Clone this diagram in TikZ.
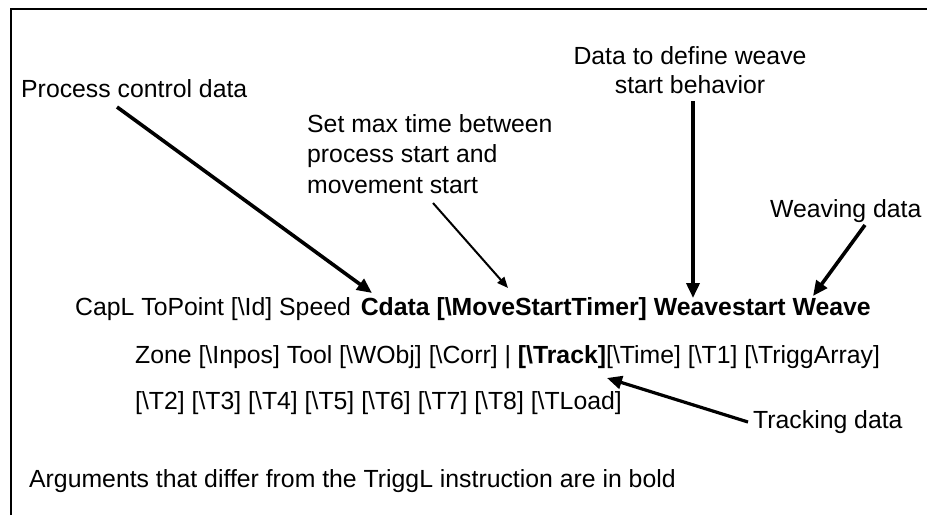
\documentclass[tikz,border=0pt]{standalone}
\usepackage{fontspec}
\setmainfont{Liberation Sans}
\usetikzlibrary{arrows.meta}
\tikzset{
  txt/.style={inner sep=0pt, anchor=base west, font=\fontsize{24.8}{31}\selectfont},
  thickarrow/.style={line width=3.6pt, -{Triangle[length=15pt,width=13pt]}},
  thinarrow/.style={line width=2pt, -{Triangle[length=11pt,width=9pt]}},
  frameline/.style={line width=2.6pt}
}
\newcommand{\bs}{\textbackslash}
\begin{document}
\begin{tikzpicture}[x=1pt,y=-1pt]
\useasboundingbox (0,0) rectangle (927,515);
% frame (cut off at right and bottom)
\draw[frameline] (11,515) -- (11,9) -- (927,9);

% annotation labels
\node[txt] (pcd) at (21,97) {Process control data};
\node[txt] (smt1) at (307,132) {Set max time between};
\node[txt] (smt2) at (307,162) {process start and};
\node[txt] (smt3) at (307,193) {movement start};
\node[txt, anchor=base] (dtd1) at (690,64) {Data to define weave};
\node[txt, anchor=base] (dtd2) at (690,93) {start behavior};
\node[txt] (wvd) at (770,217) {Weaving data};
\node[txt] (trk) at (753,428) {Tracking data};

% instruction
\node[txt] (l1) at (75,315) {CapL ToPoint [\bs Id] Speed\hspace{3pt} \textbf{Cdata [\bs MoveStartTimer] Weavestart Weave}};
\node[txt] (l2) at (135,363) {Zone [\bs Inpos] Tool [\bs WObj] [\bs Corr] | \textbf{[\bs Track]}[\bs Time] [\bs T1] [\bs TriggArray]};
\node[txt] (l3) at (135,409) {[\bs T2] [\bs T3] [\bs T4] [\bs T5] [\bs T6] [\bs T7] [\bs T8] [\bs TLoad]};

\node[txt] (note) at (29,487) {Arguments that differ from the TriggL instruction are in bold};

% arrow end points
\coordinate (pcdS) at (117,107);
\coordinate (pcdT) at (372,293);
\coordinate (smtS) at (433,203);
\coordinate (smtT) at (508,288);
\coordinate (dtdS) at (693,101);
\coordinate (dtdT) at (693,298);
\coordinate (wvdS) at (865,225);
\coordinate (wvdT) at (813,296);
\coordinate (trkS) at (748,422);
\coordinate (trkT) at (607,378);

\draw[thickarrow] (pcdS) -- (pcdT);
\draw[thinarrow] (smtS) -- (smtT);
\draw[thickarrow] (dtdS) -- (dtdT);
\draw[thickarrow] (wvdS) -- (wvdT);
\draw[thickarrow, line width=3.2pt] (trkS) -- (trkT);
\end{tikzpicture}
\end{document}
